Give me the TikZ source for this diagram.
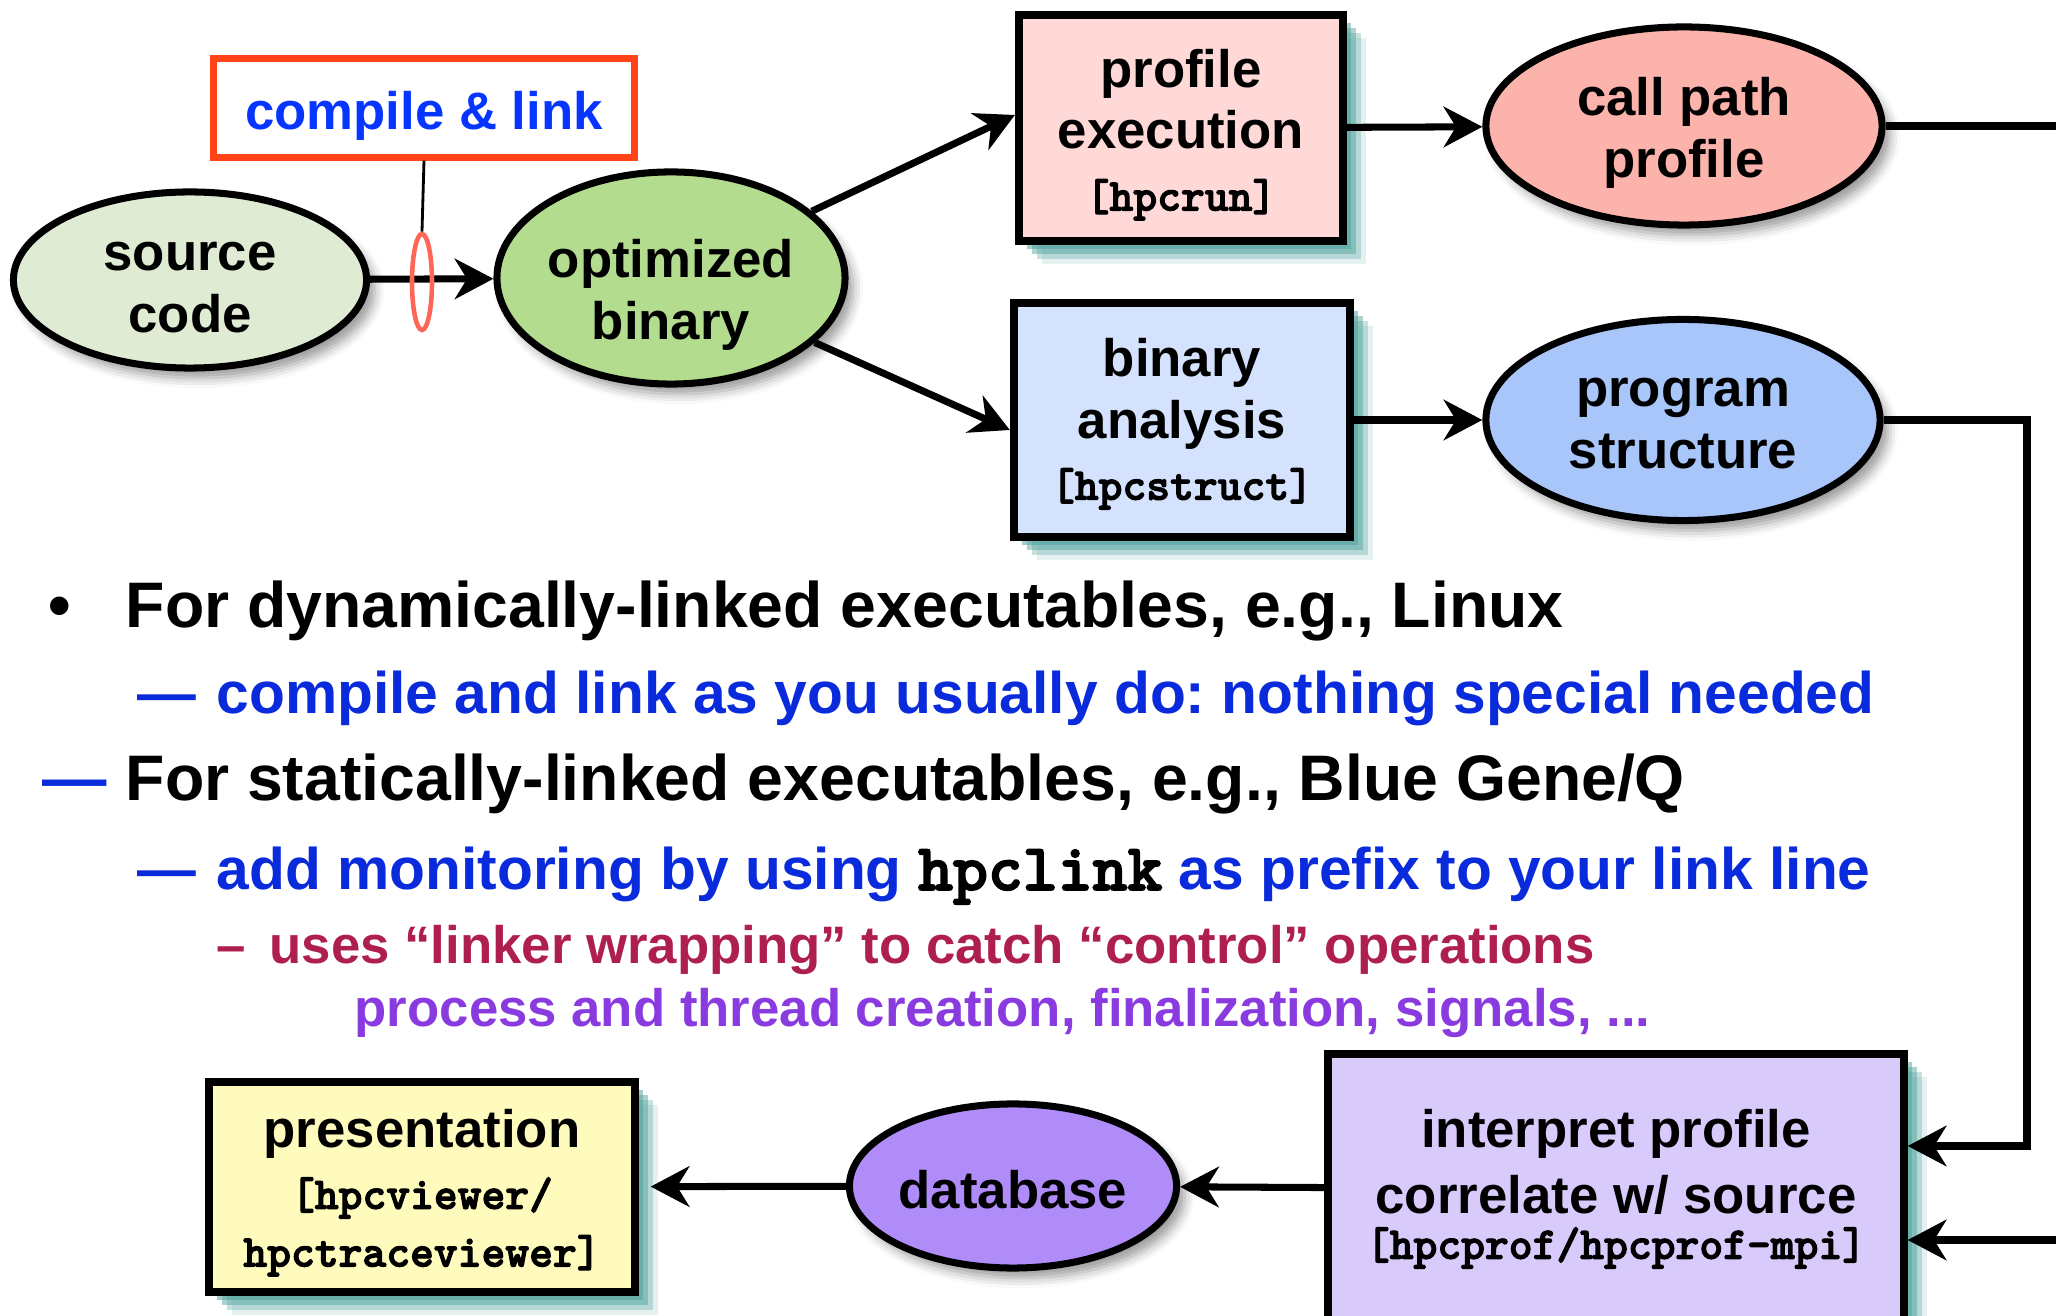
\documentclass[tikz,border=0pt]{standalone}
\usepackage{fontspec}
\setmainfont{Liberation Sans}
\newfontfamily\toolfont{lmmonolt10-bold.otf}[FakeBold=2.5]
\usetikzlibrary{arrows.meta,shapes.geometric,shadows,shadows.blur}

\definecolor{srcfill}{HTML}{E0EBD4}
\definecolor{binfill}{HTML}{B3DC8E}
\definecolor{runfill}{HTML}{FFD9D8}
\definecolor{cpfill}{HTML}{FCB3AB}
\definecolor{structfill}{HTML}{D4E2FD}
\definecolor{psfill}{HTML}{A8C6FA}
\definecolor{proffill}{HTML}{D8CBFB}
\definecolor{dbfill}{HTML}{B08CF8}
\definecolor{viewfill}{HTML}{FFFBBC}
\definecolor{linkred}{HTML}{FF4316}
\definecolor{ringred}{HTML}{FF6658}
\definecolor{linkblue}{HTML}{0535FF}
\definecolor{slideblue}{HTML}{0A2BDB}
\definecolor{wrapred}{HTML}{AE1F4F}
\definecolor{opspurple}{HTML}{8A3BE0}
\definecolor{shadeteal}{HTML}{4A9E98}

\newcommand{\toolname}[1]{{\toolfont\fontsize{12.9}{15}\selectfont #1}}
\newcommand{\topgap}[1]{\rule{0pt}{#1}}

\tikzset{
  stage/.style={ellipse, draw, line width=2pt, inner sep=0pt, align=center,
    font=\fontsize{15}{17.5}\selectfont\bfseries,
    blur shadow={shadow xshift=0.08cm, shadow yshift=-0.1cm, shadow blur radius=0.1cm}},
  tool/.style={rectangle, draw, line width=2.3pt, inner sep=0pt, align=center,
    font=\fontsize{15}{17.5}\selectfont\bfseries,
    drop shadow={shadow xshift=0.08cm, shadow yshift=-0.08cm, fill=shadeteal, opacity=0.5},
    drop shadow={shadow xshift=0.13cm, shadow yshift=-0.13cm, fill=shadeteal, opacity=0.45},
    drop shadow={shadow xshift=0.18cm, shadow yshift=-0.18cm, fill=shadeteal, opacity=0.3},
    drop shadow={shadow xshift=0.23cm, shadow yshift=-0.23cm, fill=shadeteal, opacity=0.15}},
  flow/.style={line width=2pt, -{Stealth[length=11pt, width=11.5pt, inset=3.5pt]}},
  note/.style={anchor=base west, inner sep=0pt},
  lvlone/.style={note, font=\fontsize{18.3}{22}\selectfont\bfseries},
  lvltwo/.style={note, text=slideblue, font=\fontsize{16.7}{20}\selectfont\bfseries},
  lvlthree/.style={note, font=\fontsize{15}{18}\selectfont\bfseries},
}

\begin{document}
\frenchspacing
\begin{tikzpicture}[x=0.01cm, y=-0.01cm]
\useasboundingbox (0,0) rectangle (2056,1316);

\node[stage, fill=srcfill, minimum width=3.53cm, minimum height=1.76cm] (src) at (190,280) {\topgap{12.4pt}source\\code};
\node[stage, fill=binfill, minimum width=3.37cm, minimum height=2.12cm] (bin) at (671,278) {\topgap{20.5pt}optimized\\binary};
\node[draw=linkred, line width=2pt, minimum width=4.21cm, minimum height=0.98cm, text=linkblue,
  font=\fontsize{15}{18}\selectfont\bfseries] (link) at (424,108) {\topgap{15.3pt}compile \& link};

\node[tool, fill=runfill, minimum width=3.24cm, minimum height=2.25cm] (run) at (1181,128) {\topgap{14.7pt}profile\\execution\\\toolname{[hpcrun]}};
\node[stage, fill=cpfill, minimum width=3.96cm, minimum height=1.98cm] (cpp) at (1684,126) {\topgap{14.9pt}call path\\profile};
\node[tool, fill=structfill, minimum width=3.36cm, minimum height=2.33cm] (struct) at (1182,420) {\topgap{13.1pt}binary\\analysis\\\toolname{[hpcstruct]}};
\node[stage, fill=psfill, minimum width=3.94cm, minimum height=2.01cm] (prog) at (1683,420) {\topgap{10pt}program\\structure};

\node[tool, fill=proffill, minimum width=5.75cm, minimum height=2.70cm] (prof) at (1616,1189) {interpret profile\\[1.1pt]correlate w/ source\\[-4.5pt]\toolname{[hpcprof/hpcprof-mpi]}};
\node[stage, fill=dbfill, minimum width=3.27cm, minimum height=1.64cm] (db) at (1013,1186) {\topgap{12.9pt}database};
\node[tool, fill=viewfill, minimum width=4.25cm, minimum height=2.09cm] (view) at (422,1187) {\topgap{14.3pt}presentation\\[-0.2pt]\toolname{[hpcviewer/}\\[-1.1pt]\toolname{hpctraceviewer]}};

\draw[flow] (src) -- (bin);
\node[ellipse, draw=ringred, line width=1.3pt, minimum width=0.2cm, minimum height=0.96cm, inner sep=0pt] (ring) at (422,282) {};
\draw[line width=0.8pt] (link.south) -- (ring.north);
\draw[flow] (bin) -- ([yshift=0.13cm]run.west);
\draw[flow] (bin) -- ([yshift=-0.1cm]struct.west);
\draw[flow] (run) -- (cpp);
\draw[flow] (struct) -- (prog);
\coordinate (cpturn) at (2060,1240);
\coordinate (progturn) at (2027,1146);
\draw[flow] (cpp.east) -| (cpturn) -- (cpturn -| prof.east);
\draw[flow] (prog.east) -| (progturn) -- (progturn -| prof.east);
\draw[flow] (prof) -- (db);
\draw[flow, shorten >=0.12cm] (db) -- (view);

\node[lvlone] (dot) at (48,628) {•};
\node[lvlone] (dyn) at (125,628) {For dynamically-linked executables, e.g., Linux};
\node[lvltwo] (dashdyn) at (137,714) {—};
\node[lvltwo] (usual) at (216,714) {compile and link as you usually do: nothing special needed};
\node[lvlone, text=slideblue] (dashstat) at (42,801) {—};
\node[lvlone] (stat) at (125,801) {For statically-linked executables, e.g., Blue Gene/Q};
\node[lvltwo] (dashmon) at (137,890) {—};
\node[lvltwo] (mon) at (216,890) {add monitoring by using \textcolor{black}{\toolfont\fontsize{18.9}{20}\selectfont hpclink} as prefix to your link line};
\node[lvlthree, text=wrapred] (dashwrap) at (216,964) {–};
\node[lvlthree, text=wrapred] (wrap) at (269,964) {uses “linker wrapping” to catch “control” operations};
\node[lvlthree, text=opspurple] (ops) at (354,1027) {process and thread creation, finalization, signals, ...};
\end{tikzpicture}
\end{document}
